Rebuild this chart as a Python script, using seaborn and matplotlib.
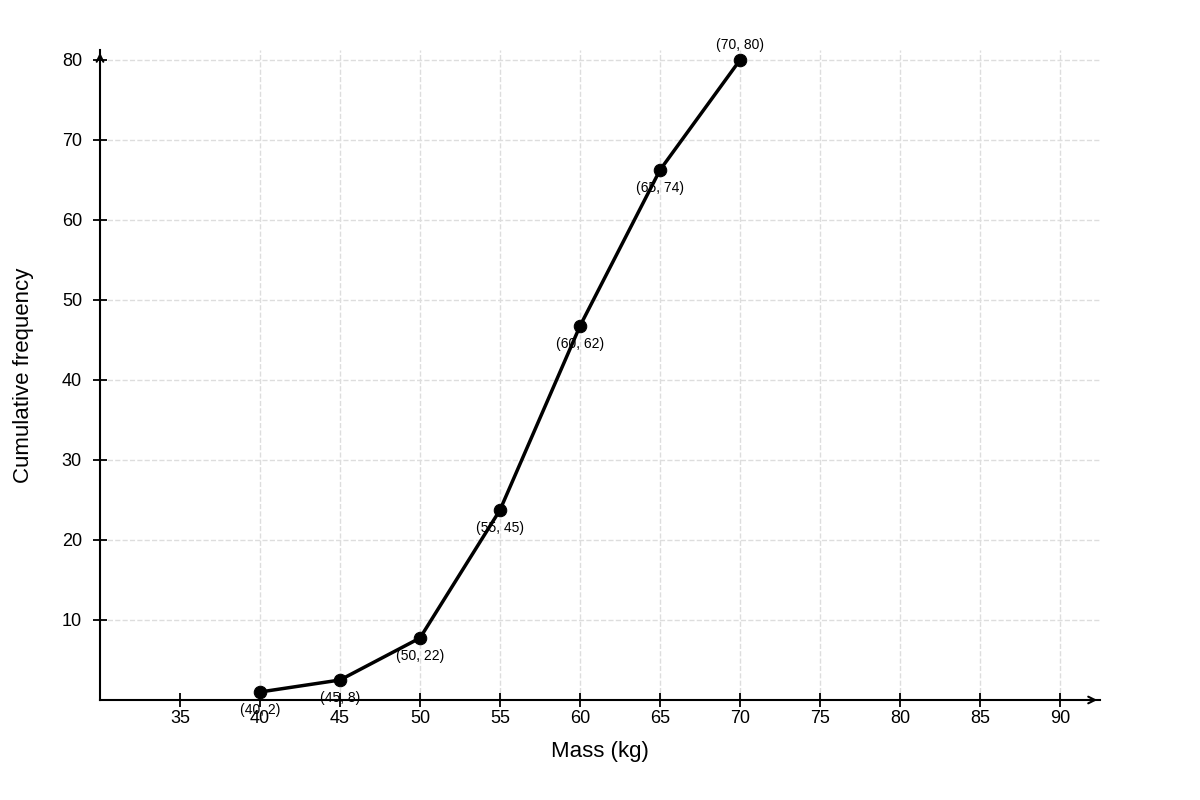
import matplotlib
matplotlib.use("Agg")
import matplotlib.pyplot as plt
import seaborn as sns
import pandas as pd

# pontos como desenhados no gráfico
massa = [40, 45, 50, 55, 60, 65, 70]
freq_plot = [1.0, 2.5, 7.75, 23.75, 46.75, 66.25, 80]
# rótulos escritos ao lado dos pontos
freq_rotulo = [2, 8, 22, 45, 62, 74, 80]
x_ticks = [35, 40, 45, 50, 55, 60, 65, 70, 75, 80, 85, 90]
y_ticks = [10, 20, 30, 40, 50, 60, 70, 80]

sns.set_theme(style="white")
plt.rcParams['font.family'] = ['Liberation Sans', 'DejaVu Sans']

fig = plt.figure(figsize=(12, 8), dpi=100)
ax = fig.add_axes([100/1200, 100/800, 1000/1200, 650/800])

tabela = pd.DataFrame({"x": massa, "y": freq_plot})
sns.lineplot(data=tabela, x="x", y="y", ax=ax, color="black", linewidth=2.5,
             marker="o", markersize=9, markeredgecolor="black", zorder=5)

for xv, yv, r in zip(massa, freq_plot, freq_rotulo):
    if r == 80:
        ax.annotate(f"({xv}, {r})", (xv, yv), xytext=(0, 6), textcoords="offset points",
                    ha="center", va="bottom", fontsize=10, color="black")
    else:
        ax.annotate(f"({xv}, {r})", (xv, yv), xytext=(0, -8), textcoords="offset points",
                    ha="center", va="top", fontsize=10, color="black")

ax.set_xlim(30, 92.5)
ax.set_ylim(0, 81.25)
ax.set_xticks(x_ticks)
ax.set_yticks(y_ticks)
ax.tick_params(axis="both", labelsize=13, length=10, width=1.3, direction="inout",
               color="black", labelcolor="black", bottom=True, left=True)
ax.tick_params(axis="x", pad=2)
ax.tick_params(axis="y", pad=8)
for xv in x_ticks[1:]:
    ax.axvline(xv, color="#dddddd", linestyle="--", linewidth=1, zorder=0)
for yv in y_ticks:
    ax.axhline(yv, color="#dddddd", linestyle="--", linewidth=1, zorder=0)

for s in ["top", "right"]:
    ax.spines[s].set_visible(False)
for s in ["left", "bottom"]:
    ax.spines[s].set_color("black")
    ax.spines[s].set_linewidth(1.5)
ax.plot(1, 0, marker=4, transform=ax.transAxes, color="black", clip_on=False, markersize=0)
ax.annotate("", xy=(1.0, 0), xytext=(0.99, 0), xycoords="axes fraction",
            arrowprops=dict(arrowstyle="->", color="black", lw=1.5))
ax.annotate("", xy=(0, 1.0), xytext=(0, 0.985), xycoords="axes fraction",
            arrowprops=dict(arrowstyle="->", color="black", lw=1.5))

ax.set_xlabel("Mass (kg)", fontsize=16, labelpad=10, color="black")
ax.set_ylabel("Cumulative frequency", fontsize=16, labelpad=20, color="black")

fig.savefig("out.png", dpi=100)
